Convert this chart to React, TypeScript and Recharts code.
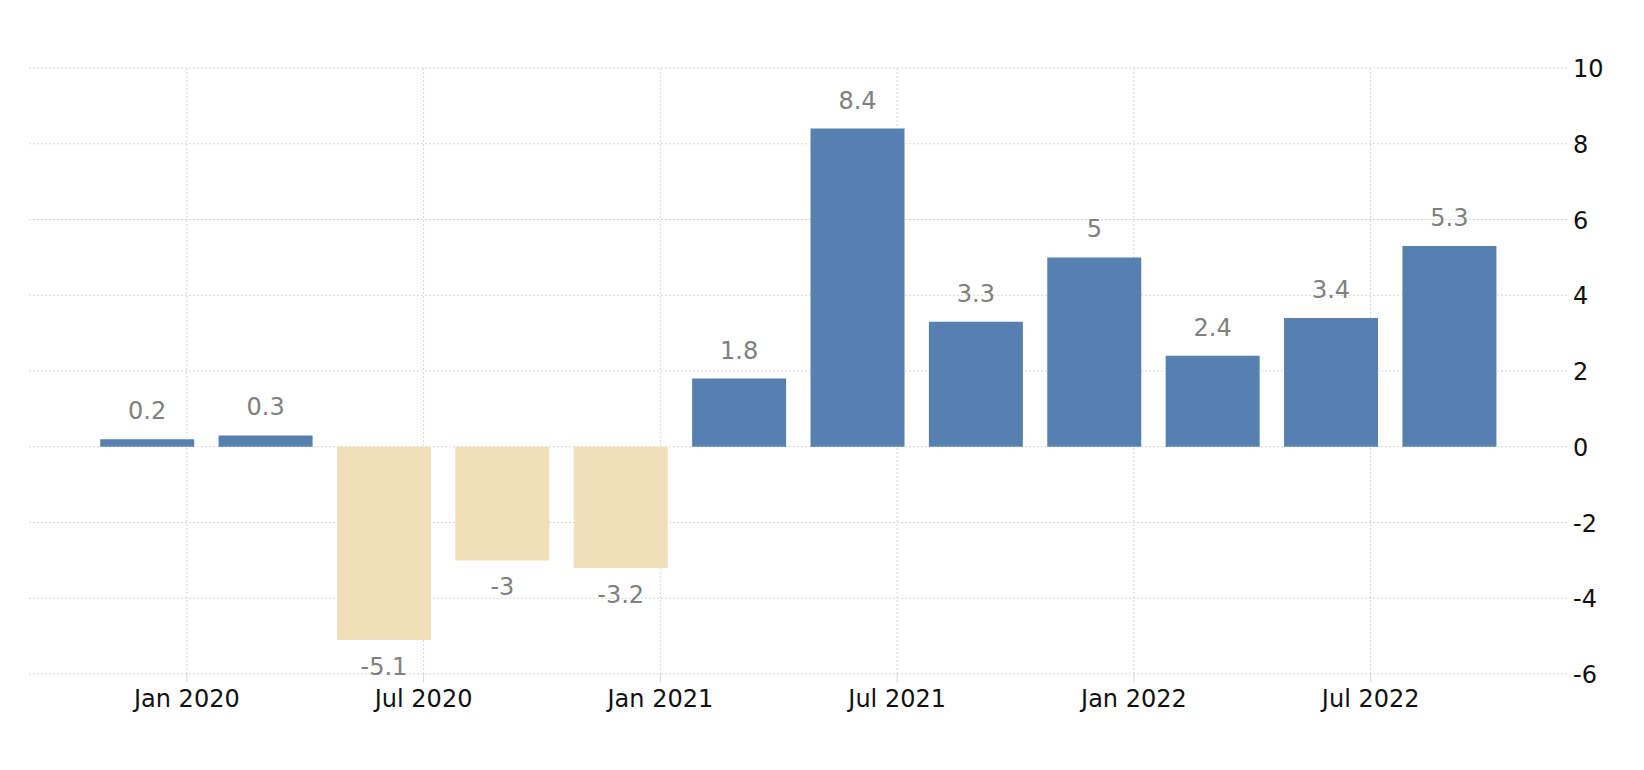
import React from "react";
import { BarChart, Bar, XAxis, YAxis, CartesianGrid, Cell, LabelList } from "recharts";

// month offsets relative to Jan 2020 (bar centers)
const months = [-1, 2, 5, 8, 11, 14, 17, 20, 23, 26, 29, 32];
const values = [0.2, 0.3, -5.1, -3, -3.2, 1.8, 8.4, 3.3, 5, 2.4, 3.4, 5.3];
const xTicks = [0, 6, 12, 18, 24, 30];
const xTickLabels = ["Jan 2020", "Jul 2020", "Jan 2021", "Jul 2021", "Jan 2022", "Jul 2022"];
const xDomain = [-4, 35];
const yTicks = [-6, -4, -2, 0, 2, 4, 6, 8, 10];

const data = months.map((m, i) => ({ m, v: values[i] }));

const FONT = "'DejaVu Sans', sans-serif";
const POS = "#5580b0";
const NEG = "#f0dfb8";
const GRID = "#d6d6d6";
const FS = 24;

const XTick = (props: any) => {
  const { x, y, payload } = props;
  const idx = xTicks.indexOf(payload.value);
  return (
    <text x={x} y={y + 23} textAnchor="middle" fontFamily={FONT} fontSize={FS} fill="#111">
      {idx >= 0 ? xTickLabels[idx] : ""}
    </text>
  );
};

const YTick = (props: any) => {
  const { x, y, payload } = props;
  return (
    <text x={x - 3} y={y + 9} textAnchor="start" fontFamily={FONT} fontSize={FS} fill="#111">
      {payload.value}
    </text>
  );
};

const ValueLabel = (props: any) => {
  const { x, y, width, height, value } = props;
  const cx = x + width / 2;
  const neg = value < 0;
  const top = Math.min(y, y + height);
  const bottom = Math.max(y, y + height);
  const ty = neg ? bottom + 35 : top - 20;
  return (
    <text x={cx} y={ty} textAnchor="middle" fontFamily={FONT} fontSize={FS} fill="#808080">
      {value}
    </text>
  );
};

const verticalGen = (args: any) => {
  const scale = args?.xAxis?.scale;
  if (typeof scale === "function") return xTicks.map((t) => scale(t));
  if (scale && typeof scale.map === "function") return xTicks.map((t) => scale.map(t));
  const off = args?.offset || {};
  const left = off.left ?? 29;
  const w = off.width ?? 1539;
  return xTicks.map((t) => left + ((t - xDomain[0]) / (xDomain[1] - xDomain[0])) * w);
};

export default function App() {
  return (
    <div style={{ position: "absolute", left: 0, top: 0, width: 1644, height: 770, background: "#fff" }}>
      <BarChart width={1644} height={770} data={data} margin={{ top: 68, right: 16, bottom: 66, left: 29 }}>
        <CartesianGrid stroke={GRID} strokeDasharray="2 2" verticalCoordinatesGenerator={verticalGen} />
        <XAxis
          dataKey="m"
          type="number"
          domain={xDomain}
          ticks={xTicks}
          interval={0}
          axisLine={false}
          tickLine={{ stroke: GRID }}
          tickSize={8}
          height={30}
          tick={<XTick />}
        />
        <YAxis
          orientation="right"
          domain={[-6, 10]}
          ticks={yTicks}
          interval={0}
          axisLine={false}
          tickLine={false}
          width={60}
          tick={<YTick />}
        />
        <Bar dataKey="v" barSize={94} isAnimationActive={false}>
          {data.map((d, i) => (
            <Cell key={i} fill={d.v < 0 ? NEG : POS} />
          ))}
          <LabelList dataKey="v" content={<ValueLabel />} />
        </Bar>
      </BarChart>
    </div>
  );
}
